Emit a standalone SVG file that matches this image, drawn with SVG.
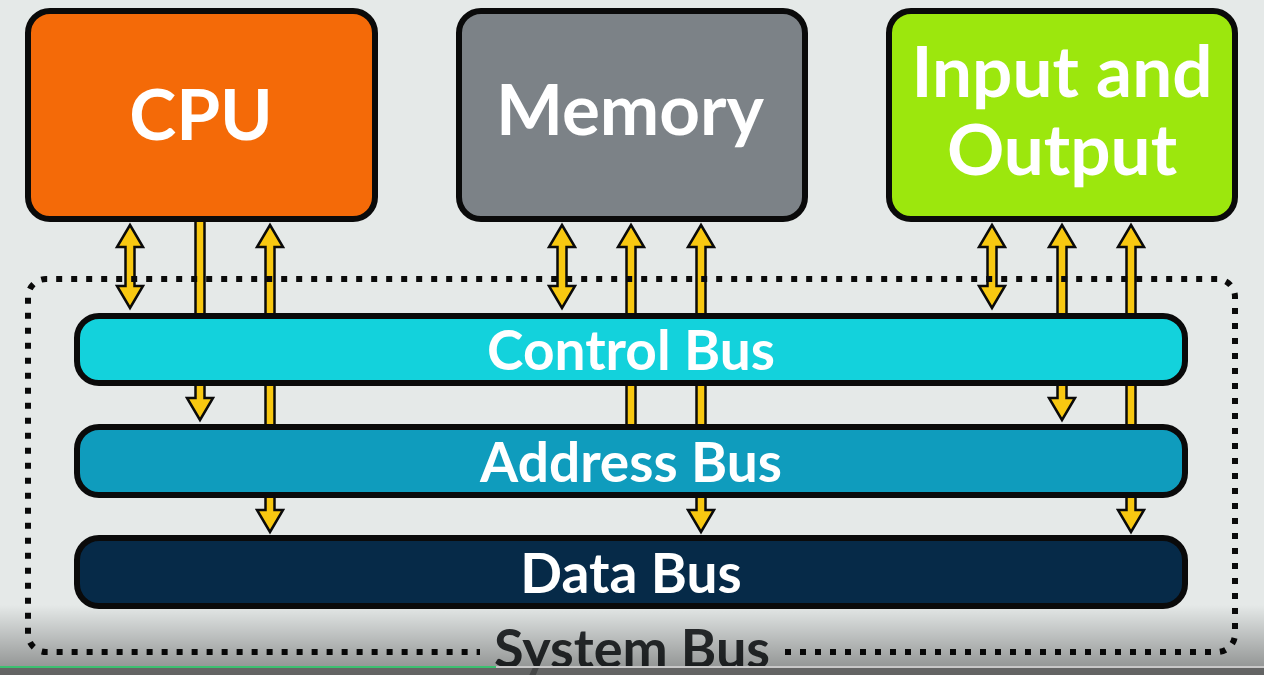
<svg xmlns="http://www.w3.org/2000/svg" width="1264" height="675" viewBox="0 0 1264 675">
<defs>
<style>
.box{stroke:#0a0a0a;stroke-width:6}
.bus{stroke:#0a0a0a;stroke-width:6}
.t{font-family:Lato,"Liberation Sans",sans-serif;font-weight:700;fill:#ffffff;text-anchor:middle}
.big{font-size:71px}
.bt{font-size:55px}
.arr{fill:#f8c811;stroke:#0a0a0a;stroke-width:2.5;stroke-linejoin:miter}
.dot{fill:none;stroke:#0a0a0a;stroke-width:6;stroke-dasharray:6 9}
</style>
<linearGradient id="shade" x1="0" y1="0" x2="0" y2="1">
<stop offset="0" stop-color="#000" stop-opacity="0"/>
<stop offset="1" stop-color="#000" stop-opacity="0.4"/>
</linearGradient>
</defs>
<rect width="1264" height="675" fill="#e5e9e8"/>

<g id="connectors">
<!-- CPU -->
<polygon class="arr" points="130,225 143,247 134.5,247 134.5,286 143,286 130,308 117,286 125.5,286 125.5,247 117,247"/>
<polygon class="arr" points="195.5,215 204.5,215 204.5,398 213,398 200,420 187,398 195.5,398"/>
<polygon class="arr" points="270,225 283,247 274.5,247 274.5,510 283,510 270,532 257,510 265.5,510 265.5,247 257,247"/>
<!-- Memory -->
<polygon class="arr" points="562,225 575,247 566.5,247 566.5,286 575,286 562,308 549,286 557.5,286 557.5,247 549,247"/>
<polygon class="arr" points="631,225 644,247 635.5,247 635.5,435 626.5,435 626.5,247 618,247"/>
<polygon class="arr" points="701,225 714,247 705.5,247 705.5,510 714,510 701,532 688,510 696.5,510 696.5,247 688,247"/>
<!-- I/O -->
<polygon class="arr" points="992,225 1005,247 996.5,247 996.5,286 1005,286 992,308 979,286 987.5,286 987.5,247 979,247"/>
<polygon class="arr" points="1062,225 1075,247 1066.5,247 1066.5,398 1075,398 1062,420 1049,398 1057.5,398 1057.5,247 1049,247"/>
<polygon class="arr" points="1131,225 1144,247 1135.5,247 1135.5,510 1144,510 1131,532 1118,510 1126.5,510 1126.5,247 1118,247"/>
</g>

<g id="system-bus">
<path class="dot" d="M785,652 H1217 A18,18 0 0 0 1235,634 V297 A18,18 0 0 0 1217,279 H46 A18,18 0 0 0 28,297 V634 A18,18 0 0 0 46,652 H480"/>
<text x="632" y="668" style="font-family:Lato,'Liberation Sans',sans-serif;font-weight:700;font-size:54px;fill:#2b2f31;text-anchor:middle">System Bus</text>
</g>

<g id="cpu">
<rect class="box" x="28" y="11" width="347" height="208" rx="22" fill="#f46a08"/>
<text class="t big" x="201" y="140">CPU</text>
</g>
<g id="memory">
<rect class="box" x="459" y="11" width="346" height="208" rx="22" fill="#7c8287"/>
<text class="t big" x="630" y="135">Memory</text>
</g>
<g id="io">
<rect class="box" x="889" y="11" width="346" height="208" rx="22" fill="#9ce70d"/>
<text class="t big" x="1062" y="97">Input and</text>
<text class="t big" x="1062" y="175">Output</text>
</g>

<g id="control-bus">
<rect class="bus" x="77" y="316" width="1108" height="67" rx="22" fill="#13d2dc"/>
<text class="t bt" x="631" y="370">Control Bus</text>
</g>
<g id="address-bus">
<rect class="bus" x="77" y="427" width="1108" height="68" rx="22" fill="#0f9cbd"/>
<text class="t bt" x="631" y="482">Address Bus</text>
</g>
<g id="data-bus">
<rect class="bus" x="77" y="538" width="1108" height="68" rx="22" fill="#062a48"/>
<text class="t bt" x="631" y="593">Data Bus</text>
</g>

<rect x="0" y="605" width="1264" height="70" fill="url(#shade)"/>
<rect x="0" y="666" width="496" height="2" fill="#3cc070"/>
<rect x="496" y="666" width="768" height="2" fill="#c8c8c8"/>
<rect x="0" y="668" width="1264" height="7" fill="#555" fill-opacity="0.75"/>
</svg>
